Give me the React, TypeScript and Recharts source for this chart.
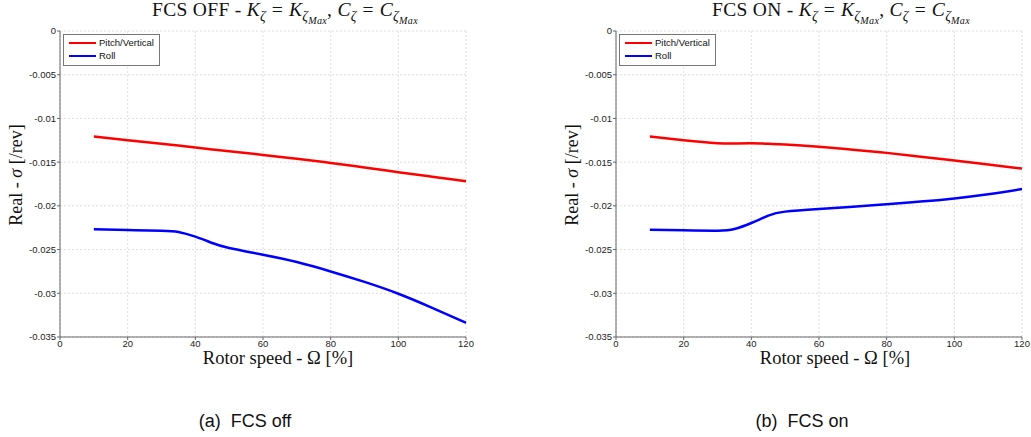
import React from 'react';
import { LineChart, Line, XAxis, YAxis, CartesianGrid, Legend } from 'recharts';

// Rotor speed [%]
const speed = [10, 20, 30, 35, 40, 45, 50, 60, 70, 80, 90, 100, 110, 120];

// FCS OFF
const offPitch = [-0.01207, -0.01249, -0.0129, -0.0131, -0.01333, -0.01355, -0.01375, -0.01417, -0.01462, -0.01509, -0.0156, -0.01615, -0.01667, -0.01718];
const offRoll = [-0.02268, -0.02276, -0.02284, -0.02298, -0.02352, -0.02425, -0.02482, -0.02559, -0.02643, -0.0275, -0.0287, -0.03005, -0.03166, -0.03338];

// FCS ON
const onPitch = [-0.01207, -0.01249, -0.01283, -0.01287, -0.01283, -0.0129, -0.01299, -0.01325, -0.01358, -0.01394, -0.01437, -0.01482, -0.01527, -0.01573];
const onRoll = [-0.02272, -0.0228, -0.02284, -0.02265, -0.02196, -0.02112, -0.02066, -0.02036, -0.02011, -0.01981, -0.01951, -0.01915, -0.01868, -0.01807];

const xTicks = [0, 20, 40, 60, 80, 100, 120];
const yTicks = [0, -0.005, -0.01, -0.015, -0.02, -0.025, -0.03, -0.035];
const seriesNames = ['Pitch/Vertical', 'Roll'];
const captions = ['(a)\u00a0\u00a0FCS off', '(b)\u00a0\u00a0FCS on'];
const titlePrefixes = ['FCS OFF - ', 'FCS ON - '];

const build = (p: number[], r: number[]) =>
  speed.map((s, i) => ({ speed: s, pitch: p[i], roll: r[i] }));

const SERIF = '"Liberation Serif", "DejaVu Serif", serif';
const SANS = '"Liberation Sans", Arial, sans-serif';

const Sub = ({ children }: { children: React.ReactNode }) => (
  <span style={{ fontSize: '0.72em', position: 'relative', top: '0.35em', fontStyle: 'italic' }}>{children}</span>
);

const Eq = () => <span style={{ margin: '0 0.3em' }}>=</span>;

const Title = ({ prefix }: { prefix: string }) => (
  <span>
    {prefix}
    <i>K</i><Sub>ζ</Sub><Eq /><i>K</i><Sub>ζ<Sub>Max</Sub></Sub>, <i>C</i><Sub>ζ</Sub><Eq /><i>C</i><Sub>ζ<Sub>Max</Sub></Sub>
  </span>
);

const renderLegend = (props: any) => {
  const payload = props.payload || [];
  return (
    <div style={{ border: '1px solid #777', background: '#fff', padding: '2px 5px 3px 5px', fontFamily: SANS, fontSize: 9.5, lineHeight: '12.6px', color: '#111', width: 'max-content' }}>
      {payload.map((e: any) => (
        <div key={e.value} style={{ display: 'flex', alignItems: 'center', whiteSpace: 'nowrap' }}>
          <span style={{ display: 'inline-block', width: 27, height: 0, borderTop: `2.5px solid ${e.color}`, marginRight: 3 }} />
          {e.value}
        </div>
      ))}
    </div>
  );
};

const CW = 475;
const CH = 437;

function Panel({ left, idx, data, titleCx, xlabCx }: { left: number; idx: number; data: any[]; titleCx: number; xlabCx: number }) {
  return (
    <div style={{ position: 'absolute', left, top: 0, width: CW, height: CH }}>
      <LineChart width={CW} height={CH} data={data} margin={{ top: 31, right: 9, left: 10, bottom: 70 }}>
        <CartesianGrid stroke="#dedede" strokeDasharray="2 2" />
        <XAxis
          dataKey="speed"
          type="number"
          domain={[0, 120]}
          ticks={xTicks}
          height={30}
          axisLine={{ stroke: '#666' }}
          tickLine={{ stroke: '#666' }}
          tickSize={3}
          tick={{ fill: '#222', fontSize: 9.5, fontFamily: SANS }}
          tickMargin={0}
        />
        <YAxis
          type="number"
          domain={[-0.035, 0]}
          ticks={yTicks}
          width={50}
          axisLine={{ stroke: '#666' }}
          tickLine={{ stroke: '#666' }}
          tickSize={3}
          tickMargin={1}
          tick={{ fill: '#222', fontSize: 9.5, fontFamily: SANS }}
          tickFormatter={(v: number) => String(v)}
        />
        <Legend
          content={renderLegend}
          layout="horizontal"
          verticalAlign="middle"
          align="center"
          wrapperStyle={{ position: 'absolute', left: 63, top: 34, width: 'auto', height: 'auto' }}
        />
        <Line type="natural" dataKey="pitch" name={seriesNames[0]} stroke="#ff0000" strokeWidth={2.5} dot={false} isAnimationActive={false} />
        <Line type="natural" dataKey="roll" name={seriesNames[1]} stroke="#0000ff" strokeWidth={2.5} dot={false} isAnimationActive={false} />
      </LineChart>
      <div style={{ position: 'absolute', left: titleCx, top: -1, transform: 'translateX(-50%)', whiteSpace: 'nowrap', fontFamily: SERIF, fontSize: 19.5, letterSpacing: 0.3, color: '#111' }}>
        <Title prefix={titlePrefixes[idx]} />
      </div>
      <div style={{ position: 'absolute', left: 16, top: 175, transform: 'translate(-50%, -50%) rotate(-90deg)', whiteSpace: 'nowrap', fontFamily: SERIF, fontSize: 18, color: '#111' }}>
        Real - <i>σ</i> [/rev]
      </div>
      <div style={{ position: 'absolute', left: xlabCx, top: 358, transform: 'translate(-50%, -50%)', whiteSpace: 'nowrap', fontFamily: SERIF, fontSize: 18.5, color: '#111' }}>
        Rotor speed - Ω [%]
      </div>
      <div style={{ position: 'absolute', left: idx === 0 ? 245 : 246, top: 421, transform: 'translate(-50%, -50%)', whiteSpace: 'nowrap', fontFamily: SANS, fontSize: 18, color: '#111' }}>
        {captions[idx]}
      </div>
    </div>
  );
}

export default function App() {
  const dOff = build(offPitch, offRoll);
  const dOn = build(onPitch, onRoll);
  return (
    <div style={{ position: 'absolute', left: 0, top: 0, width: 1031, height: 437, background: '#fff', overflow: 'hidden' }}>
      <Panel left={0} idx={0} data={dOff} titleCx={285} xlabCx={278} />
      <Panel left={556} idx={1} data={dOn} titleCx={285} xlabCx={279} />
    </div>
  );
}
